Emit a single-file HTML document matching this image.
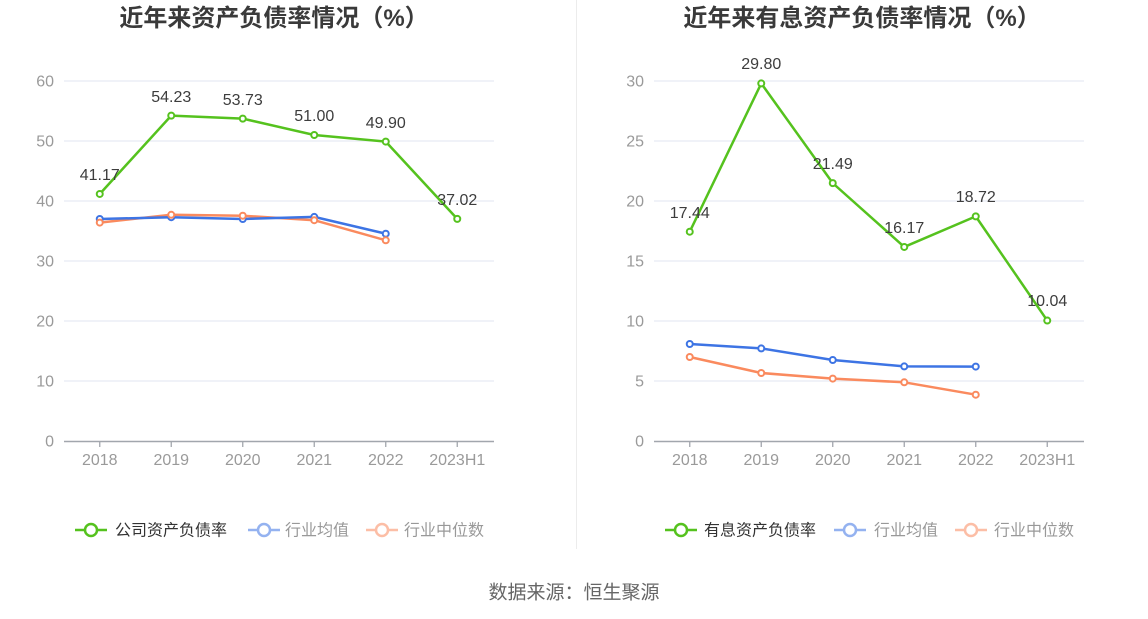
<!DOCTYPE html>
<html>
<head>
<meta charset="utf-8">
<style>
  html,body{margin:0;padding:0;background:#fff;}
  svg{display:block;font-family:"Liberation Sans","Noto Sans CJK SC",sans-serif;}
</style>
</head>
<body>
<svg width="1148" height="619" viewBox="0 0 1148 619" xmlns="http://www.w3.org/2000/svg">
  <rect width="1148" height="619" fill="#fff"/>
  <!-- separator -->
  <line x1="576.5" y1="0" x2="576.5" y2="549" stroke="#ececec" stroke-width="1"/>

  <!-- Titles -->
  <text x="274" y="26" text-anchor="middle" font-size="24" font-weight="bold" fill="#3a3a3a">近年来资产负债率情况（%）</text>
  <text x="862" y="26" text-anchor="middle" font-size="24" font-weight="bold" fill="#3a3a3a">近年来有息资产负债率情况（%）</text>

  <!-- LEFT CHART -->
  <g stroke="#e6eaf4" stroke-width="1.2">
    <line x1="64" y1="81" x2="494" y2="81"/>
    <line x1="64" y1="141" x2="494" y2="141"/>
    <line x1="64" y1="201" x2="494" y2="201"/>
    <line x1="64" y1="261" x2="494" y2="261"/>
    <line x1="64" y1="321" x2="494" y2="321"/>
    <line x1="64" y1="381" x2="494" y2="381"/>
  </g>
  <line x1="64" y1="441.5" x2="494" y2="441.5" stroke="#a2a6ad" stroke-width="1.5"/>
  <g stroke="#a2a6ad" stroke-width="1.3">
    <line x1="99.75" y1="441" x2="99.75" y2="447"/>
    <line x1="171.25" y1="441" x2="171.25" y2="447"/>
    <line x1="242.75" y1="441" x2="242.75" y2="447"/>
    <line x1="314.25" y1="441" x2="314.25" y2="447"/>
    <line x1="385.75" y1="441" x2="385.75" y2="447"/>
    <line x1="457.25" y1="441" x2="457.25" y2="447"/>
  </g>
  <g font-size="16" fill="#9a9a9a" text-anchor="end">
    <text x="54" y="86.5">60</text>
    <text x="54" y="146.5">50</text>
    <text x="54" y="206.5">40</text>
    <text x="54" y="266.5">30</text>
    <text x="54" y="326.5">20</text>
    <text x="54" y="386.5">10</text>
    <text x="54" y="446.5">0</text>
  </g>
  <g font-size="16" fill="#9a9a9a" text-anchor="middle">
    <text x="99.75" y="465">2018</text>
    <text x="171.25" y="465">2019</text>
    <text x="242.75" y="465">2020</text>
    <text x="314.25" y="465">2021</text>
    <text x="385.75" y="465">2022</text>
    <text x="457.25" y="465">2023H1</text>
  </g>
  <!-- orange -->
  <polyline fill="none" stroke="#fa8a5e" stroke-width="2.5" stroke-linejoin="round" points="99.75,222.6 171.25,214.8 242.75,215.7 314.25,220.2 385.75,240.3"/>
  <!-- blue -->
  <polyline fill="none" stroke="#3d74e4" stroke-width="2.5" stroke-linejoin="round" points="99.75,219 171.25,217.2 242.75,219 314.25,216.9 385.75,233.7"/>
  <g fill="#fff" stroke="#3d74e4" stroke-width="2">
    <circle cx="99.75" cy="219" r="3"/><circle cx="171.25" cy="217.2" r="3"/><circle cx="242.75" cy="219" r="3"/><circle cx="314.25" cy="216.9" r="3"/><circle cx="385.75" cy="233.7" r="3"/>
  </g>
  <g fill="#fff" stroke="#fa8a5e" stroke-width="2">
    <circle cx="99.75" cy="222.6" r="3"/><circle cx="171.25" cy="214.8" r="3"/><circle cx="242.75" cy="215.7" r="3"/><circle cx="314.25" cy="220.2" r="3"/><circle cx="385.75" cy="240.3" r="3"/>
  </g>
  <!-- green -->
  <polyline fill="none" stroke="#55c21e" stroke-width="2.5" stroke-linejoin="round" points="99.75,193.98 171.25,115.62 242.75,118.62 314.25,135 385.75,141.6 457.25,218.88"/>
  <g fill="#fff" stroke="#55c21e" stroke-width="2">
    <circle cx="99.75" cy="193.98" r="3"/><circle cx="171.25" cy="115.62" r="3"/><circle cx="242.75" cy="118.62" r="3"/><circle cx="314.25" cy="135" r="3"/><circle cx="385.75" cy="141.6" r="3"/><circle cx="457.25" cy="218.88" r="3"/>
  </g>
  <g font-size="16" fill="#3d3d3d" text-anchor="middle">
    <text x="99.75" y="180">41.17</text>
    <text x="171.25" y="102">54.23</text>
    <text x="242.75" y="105">53.73</text>
    <text x="314.25" y="121">51.00</text>
    <text x="385.75" y="128">49.90</text>
    <text x="457.25" y="205">37.02</text>
  </g>

  <!-- RIGHT CHART -->
  <g stroke="#e6eaf4" stroke-width="1.2">
    <line x1="654" y1="81" x2="1084" y2="81"/>
    <line x1="654" y1="141" x2="1084" y2="141"/>
    <line x1="654" y1="201" x2="1084" y2="201"/>
    <line x1="654" y1="261" x2="1084" y2="261"/>
    <line x1="654" y1="321" x2="1084" y2="321"/>
    <line x1="654" y1="381" x2="1084" y2="381"/>
  </g>
  <line x1="654" y1="441.5" x2="1084" y2="441.5" stroke="#a2a6ad" stroke-width="1.5"/>
  <g stroke="#a2a6ad" stroke-width="1.3">
    <line x1="689.75" y1="441" x2="689.75" y2="447"/>
    <line x1="761.25" y1="441" x2="761.25" y2="447"/>
    <line x1="832.75" y1="441" x2="832.75" y2="447"/>
    <line x1="904.25" y1="441" x2="904.25" y2="447"/>
    <line x1="975.75" y1="441" x2="975.75" y2="447"/>
    <line x1="1047.25" y1="441" x2="1047.25" y2="447"/>
  </g>
  <g font-size="16" fill="#9a9a9a" text-anchor="end">
    <text x="644" y="86.5">30</text>
    <text x="644" y="146.5">25</text>
    <text x="644" y="206.5">20</text>
    <text x="644" y="266.5">15</text>
    <text x="644" y="326.5">10</text>
    <text x="644" y="386.5">5</text>
    <text x="644" y="446.5">0</text>
  </g>
  <g font-size="16" fill="#9a9a9a" text-anchor="middle">
    <text x="689.75" y="465">2018</text>
    <text x="761.25" y="465">2019</text>
    <text x="832.75" y="465">2020</text>
    <text x="904.25" y="465">2021</text>
    <text x="975.75" y="465">2022</text>
    <text x="1047.25" y="465">2023H1</text>
  </g>
  <polyline fill="none" stroke="#fa8a5e" stroke-width="2.5" stroke-linejoin="round" points="689.75,357 761.25,373 832.75,378.6 904.25,382.3 975.75,394.7"/>
  <polyline fill="none" stroke="#3d74e4" stroke-width="2.5" stroke-linejoin="round" points="689.75,344 761.25,348.4 832.75,360 904.25,366.4 975.75,366.6"/>
  <g fill="#fff" stroke="#3d74e4" stroke-width="2">
    <circle cx="689.75" cy="344" r="3"/><circle cx="761.25" cy="348.4" r="3"/><circle cx="832.75" cy="360" r="3"/><circle cx="904.25" cy="366.4" r="3"/><circle cx="975.75" cy="366.6" r="3"/>
  </g>
  <g fill="#fff" stroke="#fa8a5e" stroke-width="2">
    <circle cx="689.75" cy="357" r="3"/><circle cx="761.25" cy="373" r="3"/><circle cx="832.75" cy="378.6" r="3"/><circle cx="904.25" cy="382.3" r="3"/><circle cx="975.75" cy="394.7" r="3"/>
  </g>
  <polyline fill="none" stroke="#55c21e" stroke-width="2.5" stroke-linejoin="round" points="689.75,231.72 761.25,83.4 832.75,183.12 904.25,246.96 975.75,216.36 1047.25,320.52"/>
  <g fill="#fff" stroke="#55c21e" stroke-width="2">
    <circle cx="689.75" cy="231.72" r="3"/><circle cx="761.25" cy="83.4" r="3"/><circle cx="832.75" cy="183.12" r="3"/><circle cx="904.25" cy="246.96" r="3"/><circle cx="975.75" cy="216.36" r="3"/><circle cx="1047.25" cy="320.52" r="3"/>
  </g>
  <g font-size="16" fill="#3d3d3d" text-anchor="middle">
    <text x="689.75" y="218">17.44</text>
    <text x="761.25" y="69">29.80</text>
    <text x="832.75" y="169">21.49</text>
    <text x="904.25" y="233">16.17</text>
    <text x="975.75" y="202">18.72</text>
    <text x="1047.25" y="306">10.04</text>
  </g>

  <!-- LEFT LEGEND -->
  <g>
    <line x1="75" y1="530" x2="107" y2="530" stroke="#55c21e" stroke-width="2.5"/>
    <circle cx="91" cy="530" r="6" fill="#fff" stroke="#55c21e" stroke-width="2.5"/>
    <text x="115" y="535.5" font-size="16" fill="#333">公司资产负债率</text>
    <g opacity="0.55">
      <line x1="248" y1="530" x2="280" y2="530" stroke="#3d74e4" stroke-width="2.5"/>
      <circle cx="264" cy="530" r="6" fill="#fff" stroke="#3d74e4" stroke-width="2.5"/>
    </g>
    <text x="285" y="535.5" font-size="16" fill="#999">行业均值</text>
    <g opacity="0.55">
      <line x1="366" y1="530" x2="398" y2="530" stroke="#fa8a5e" stroke-width="2.5"/>
      <circle cx="382" cy="530" r="6" fill="#fff" stroke="#fa8a5e" stroke-width="2.5"/>
    </g>
    <text x="404" y="535.5" font-size="16" fill="#999">行业中位数</text>
  </g>

  <!-- RIGHT LEGEND -->
  <g>
    <line x1="665" y1="530" x2="697" y2="530" stroke="#55c21e" stroke-width="2.5"/>
    <circle cx="681" cy="530" r="6" fill="#fff" stroke="#55c21e" stroke-width="2.5"/>
    <text x="704" y="535.5" font-size="16" fill="#333">有息资产负债率</text>
    <g opacity="0.55">
      <line x1="834" y1="530" x2="866" y2="530" stroke="#3d74e4" stroke-width="2.5"/>
      <circle cx="850" cy="530" r="6" fill="#fff" stroke="#3d74e4" stroke-width="2.5"/>
    </g>
    <text x="874" y="535.5" font-size="16" fill="#999">行业均值</text>
    <g opacity="0.55">
      <line x1="955" y1="530" x2="987" y2="530" stroke="#fa8a5e" stroke-width="2.5"/>
      <circle cx="971" cy="530" r="6" fill="#fff" stroke="#fa8a5e" stroke-width="2.5"/>
    </g>
    <text x="994" y="535.5" font-size="16" fill="#999">行业中位数</text>
  </g>

  <!-- source -->
  <text x="574" y="598.5" text-anchor="middle" font-size="19" fill="#666">数据来源：恒生聚源</text>
</svg>
</body>
</html>
